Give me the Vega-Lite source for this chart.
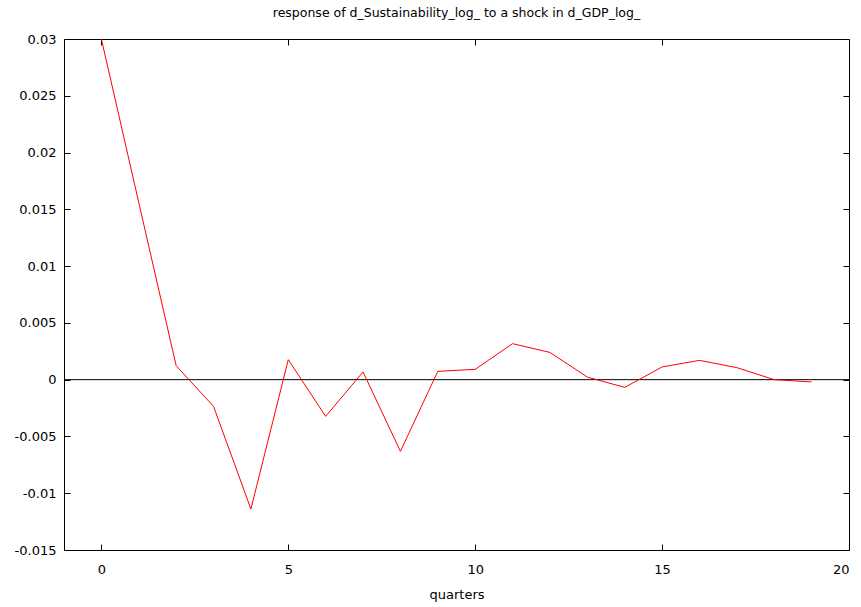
{
  "$schema": "https://vega.github.io/schema/vega-lite/v6.json",
  "width": 785,
  "height": 511,
  "autosize": "none",
  "padding": {"left": 64, "top": 39, "right": 12, "bottom": 57},
  "background": "white",
  "config": {
    "font": "DejaVu Sans",
    "view": {"stroke": "#000000", "strokeWidth": 1},
    "axis": {"grid": false, "domain": false, "labelFont": "DejaVu Sans", "labelFontSize": 13, "labelColor": "#000000", "tickColor": "#000000", "titleFont": "DejaVu Sans", "titleFontWeight": "normal", "titleFontSize": 13, "titleColor": "#000000"}
  },
  "title": {"text": "response of d_Sustainability_log_ to a shock in d_GDP_log_", "fontSize": 12.5, "fontWeight": "normal", "font": "DejaVu Sans", "color": "#000000", "offset": 14, "anchor": "middle"},
  "data": {"values": [
    {"q": 0, "v": 0.03},
    {"q": 1, "v": 0.0156},
    {"q": 2, "v": 0.00123},
    {"q": 3, "v": -0.00235},
    {"q": 4, "v": -0.01139},
    {"q": 5, "v": 0.00176},
    {"q": 6, "v": -0.00323},
    {"q": 7, "v": 0.00068},
    {"q": 8, "v": -0.00631},
    {"q": 9, "v": 0.00073},
    {"q": 10, "v": 0.00091},
    {"q": 11, "v": 0.00317},
    {"q": 12, "v": 0.0024},
    {"q": 13, "v": 0.00023},
    {"q": 14, "v": -0.00068},
    {"q": 15, "v": 0.00112},
    {"q": 16, "v": 0.0017},
    {"q": 17, "v": 0.00106},
    {"q": 18, "v": 0.0},
    {"q": 19, "v": -0.0002}
  ]},
  "layer": [
    {
      "data": {"values": [{"z": 0}]},
      "mark": {"type": "rule", "color": "#000000", "strokeWidth": 1},
      "encoding": {
        "y": {"field": "z", "type": "quantitative", "scale": {"domain": [-0.015, 0.03], "nice": false},
          "axis": {"orient": "right", "labels": false, "title": null, "values": [-0.015, -0.01, -0.005, 0, 0.005, 0.01, 0.015, 0.02, 0.025, 0.03], "tickSize": -6}}
      }
    },
    {
      "mark": {"type": "line", "color": "#ff0000", "strokeWidth": 1},
      "encoding": {
        "x": {"field": "q", "type": "quantitative", "scale": {"domain": [-1, 20], "nice": false, "zero": false},
          "axis": {"title": "quarters", "values": [0, 5, 10, 15, 20], "tickSize": -6, "labelPadding": 19, "titlePadding": 12}},
        "y": {"field": "v", "type": "quantitative", "scale": {"domain": [-0.015, 0.03], "nice": false},
          "axis": {"title": null, "values": [-0.015, -0.01, -0.005, 0, 0.005, 0.01, 0.015, 0.02, 0.025, 0.03], "tickSize": -6, "labelPadding": 14, "labelExpr": "'' + datum.value"}}
      }
    },
    {
      "data": {"values": [{"t": 0}]},
      "mark": {"type": "point", "opacity": 0},
      "encoding": {
        "x": {"field": "t", "type": "quantitative", "scale": {"domain": [-1, 20], "nice": false, "zero": false},
          "axis": {"orient": "top", "labels": false, "title": null, "values": [0, 5, 10, 15, 20], "tickSize": -6}}
      }
    }
  ],
  "resolve": {"axis": {"x": "independent", "y": "independent"}}
}
